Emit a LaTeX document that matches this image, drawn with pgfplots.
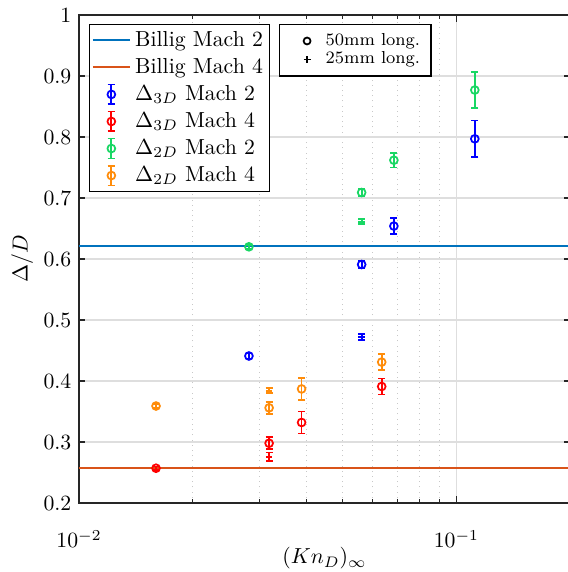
\documentclass[border=0pt]{standalone}
\usepackage{pgfplots}
\usepackage{pgfplotstable}
\pgfplotsset{compat=1.18}
\definecolor{mblue}{rgb}{0,0.447,0.741}
\definecolor{morange}{rgb}{0.85,0.325,0.098}
\definecolor{cgreen}{RGB}{25,215,100}
\definecolor{corange}{RGB}{255,140,10}
\definecolor{gridc}{RGB}{222,222,222}
\definecolor{mgridc}{RGB}{200,200,200}

% 50mm long (circles)
\pgfplotstableread{
x y e
0.0282 0.441 0.004
0.0561 0.591 0.006
0.0683 0.654 0.013
0.1119 0.797 0.030
}\blueC
\pgfplotstableread{
x y e
0.0561 0.472 0.005
}\blueP
\pgfplotstableread{
x y e
0.0160 0.257 0.003
0.0319 0.298 0.010
0.0389 0.332 0.018
0.0634 0.391 0.013
}\redC
\pgfplotstableread{
x y e
0.0319 0.276 0.007
}\redP
\pgfplotstableread{
x y e
0.0282 0.620 0.003
0.0561 0.709 0.006
0.0683 0.762 0.012
0.1119 0.877 0.030
}\greenC
\pgfplotstableread{
x y e
0.0561 0.661 0.004
}\greenP
\pgfplotstableread{
x y e
0.0160 0.359 0.003
0.0319 0.356 0.010
0.0389 0.387 0.018
0.0634 0.431 0.013
}\orangeC
\pgfplotstableread{
x y e
0.0319 0.384 0.004
}\orangeP

\newcommand{\errleg}[1]{\addlegendimage{legend image code/.code={
  \draw[#1, line width=0.8pt] (0.3cm,-0.16cm) -- (0.3cm,0.16cm) (0.24cm,-0.16cm) -- (0.36cm,-0.16cm) (0.24cm,0.16cm) -- (0.36cm,0.16cm);
  \draw[#1, line width=0.8pt] (0.3cm,0cm) circle (1.8pt);
  \path (0cm,0cm) (0.6cm,0cm);
}}}

\pgfplotsset{
  errC/.style={only marks, mark=o, mark size=1.8pt, line width=0.8pt, forget plot,
    error bars/.cd, y dir=both, y explicit,
    error bar style={line width=0.8pt},
    error mark options={rotate=90, line width=0.8pt, mark size=1.6pt}},
  errP/.style={only marks, mark=+, mark size=1.5pt, line width=0.8pt, forget plot,
    error bars/.cd, y dir=both, y explicit,
    error bar style={line width=0.8pt},
    error mark options={rotate=90, line width=0.8pt, mark size=1.6pt}},
}

\begin{document}
\begin{tikzpicture}
\path[use as bounding box] (-36.34pt,-31.74pt) rectangle (224.48pt,231.38pt);
\begin{axis}[scale only axis, width=225.86pt, height=224.48pt,
  at={(0pt,0pt)}, anchor=south west,
  xmode=log, xmin=0.01, xmax=0.2, ymin=0.2, ymax=1,
  ytick={0.2,0.3,0.4,0.5,0.6,0.7,0.8,0.9,1},
  yticklabel style={/pgf/number format/.cd, fixed, precision=1},
  xtick={0.01,0.1},
  minor xtick={0.02,0.03,0.04,0.05,0.06,0.07,0.08,0.09,0.2},
  xmajorgrids, ymajorgrids, xminorgrids,
  major grid style={gridc, line width=0.6pt},
  minor grid style={mgridc, dotted, line width=0.5pt},
  tick align=inside,
  major tick length=3pt, minor tick length=1.8pt,
  axis line style={black!85, line width=0.6pt},
  tick style={black!85, line width=0.5pt},
  xticklabel style={yshift=-9pt},
  xlabel style={yshift=7pt},
  ylabel shift=-2pt,
  xlabel={$(Kn_D)_\infty$}, ylabel={$\Delta/D$},
  legend cell align=left,
  legend style={at={(0.0204,0.9816)}, anchor=north west, draw=black, line width=0.6pt, fill=white, font=\normalsize, inner sep=1pt},
]
\addplot[mblue, line width=0.9pt] coordinates {(0.01,0.622) (0.2,0.622)};
\addlegendentry{Billig Mach 2}
\addplot[morange, line width=0.9pt] coordinates {(0.01,0.257) (0.2,0.257)};
\addlegendentry{Billig Mach 4}

\addplot[blue, errC] table[x=x, y=y, y error=e] {\blueC};
\addplot[blue, errP] table[x=x, y=y, y error=e] {\blueP};
\addplot[red, errC] table[x=x, y=y, y error=e] {\redC};
\addplot[red, errP] table[x=x, y=y, y error=e] {\redP};
\addplot[cgreen, errC] table[x=x, y=y, y error=e] {\greenC};
\addplot[cgreen, errP] table[x=x, y=y, y error=e] {\greenP};
\addplot[corange, errC] table[x=x, y=y, y error=e] {\orangeC};
\addplot[corange, errP] table[x=x, y=y, y error=e] {\orangeP};

\errleg{blue}\addlegendentry{$\Delta_{3D}$ Mach 2}
\errleg{red}\addlegendentry{$\Delta_{3D}$ Mach 4}
\errleg{cgreen}\addlegendentry{$\Delta_{2D}$ Mach 2}
\errleg{corange}\addlegendentry{$\Delta_{2D}$ Mach 4}
\end{axis}

\begin{axis}[scale only axis, width=225.86pt, height=224.48pt,
  at={(0pt,0pt)}, anchor=south west,
  xmin=0, xmax=1, ymin=0, ymax=1, hide axis,
  legend cell align=left,
  legend style={at={(0.407,0.9816)}, anchor=north west, draw=black, line width=0.6pt, fill=white, font=\footnotesize, row sep=-2.5pt},
]
\addplot[draw=none, forget plot] coordinates {(0.5,-1) (0.6,-1)};
\addlegendimage{legend image code/.code={
  \draw[black, line width=0.8pt] plot[mark=o, mark size=1.6pt, only marks] coordinates {(0.33cm,0cm)};
  \path (0cm,0cm) (0.55cm,0cm);}}
\addlegendentry{50mm long.}
\addlegendimage{legend image code/.code={
  \draw[black, line width=0.8pt] plot[mark=+, mark size=1.6pt, only marks] coordinates {(0.33cm,0cm)};
  \path (0cm,0cm) (0.55cm,0cm);}}
\addlegendentry{25mm long.}
\end{axis}
\end{tikzpicture}
\end{document}
